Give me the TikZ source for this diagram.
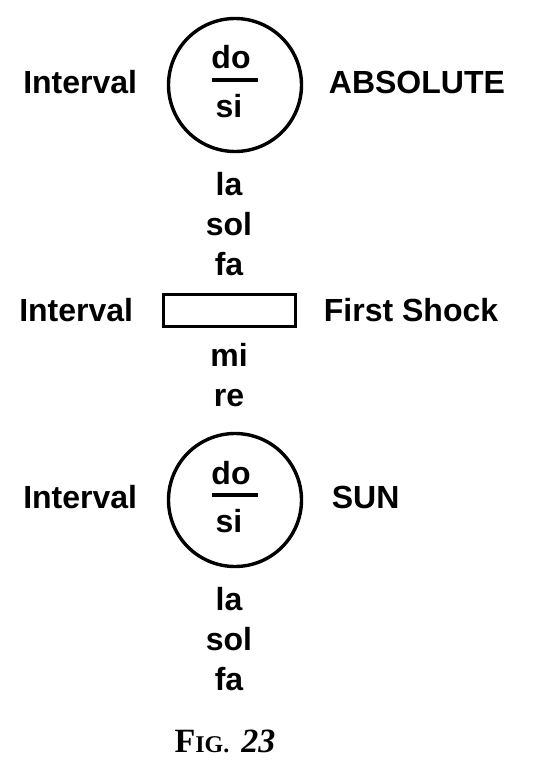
\documentclass[tikz,border=0pt]{standalone}
\usepackage{fontspec}
\setmainfont{Liberation Sans}
\newfontfamily\figfont{Liberation Serif}
\usetikzlibrary{positioning}

\begin{document}
\begin{tikzpicture}[x=1pt, y=-1pt, line width=3.4pt,
every node/.style={font=\fontsize{32}{38}\selectfont\bfseries, inner sep=0pt},
note/.style={below=40pt of #1, anchor=base},
node distance=30pt]

\useasboundingbox (0,0) rectangle (540,776);

% upper octave
\node [circle, draw, minimum size=133pt] (absolute) at (235,85) {};
\node [anchor=base] (absdo) at (231,69) {do};
\node [anchor=base] (abssi) at (229,117) {si};
\draw [line width=4pt] ([xshift=-23pt, yshift=5pt]absolute.center) -- ++(46pt,0);
\node (absint) [left=28pt of absolute, yshift=3pt] {Interval};
\node (abstext) [right=24pt of absolute, yshift=3pt] {ABSOLUTE};

\node [anchor=base] (la) at (229,195) {la};
\node [note=la.base] (sol) {sol};
\node [note=sol.base] (fa) {fa};

% first shock
\node [draw, minimum width=132pt, minimum height=32pt] (shock) at (229.5,310.5) {};
\node (shockint) [left=27pt of shock] {Interval};
\node (shocktext) [right=25pt of shock] {First Shock};

\node [below=91pt of fa.base, anchor=base] (mi) {mi};
\node [note=mi.base] (re) {re};

% sun
\node [circle, draw, minimum size=133pt] (sun) at (235,500) {};
\node [anchor=base] (sundo) at (231,484) {do};
\node [anchor=base] (sunsi) at (229,532) {si};
\draw [line width=4pt] ([xshift=-23pt, yshift=5pt]sun.center) -- ++(46pt,0);
\node (sunint) [left=28pt of sun, yshift=3pt] {Interval};
\node (suntext) [right=27pt of sun, yshift=3pt] {SUN};

\node [anchor=base] (sunla) at (229,610) {la};
\node [note=sunla.base] (sunsol) {sol};
\node [note=sunsol.base] (sunfa) {fa};

\node [anchor=base, font=\figfont\bfseries] (fig) at (225,752)
  {\fontsize{34}{40}\selectfont F\fontsize{24}{28}\selectfont IG.\ \ \fontsize{34}{40}\selectfont\itshape 23};

\end{tikzpicture}
\end{document}
